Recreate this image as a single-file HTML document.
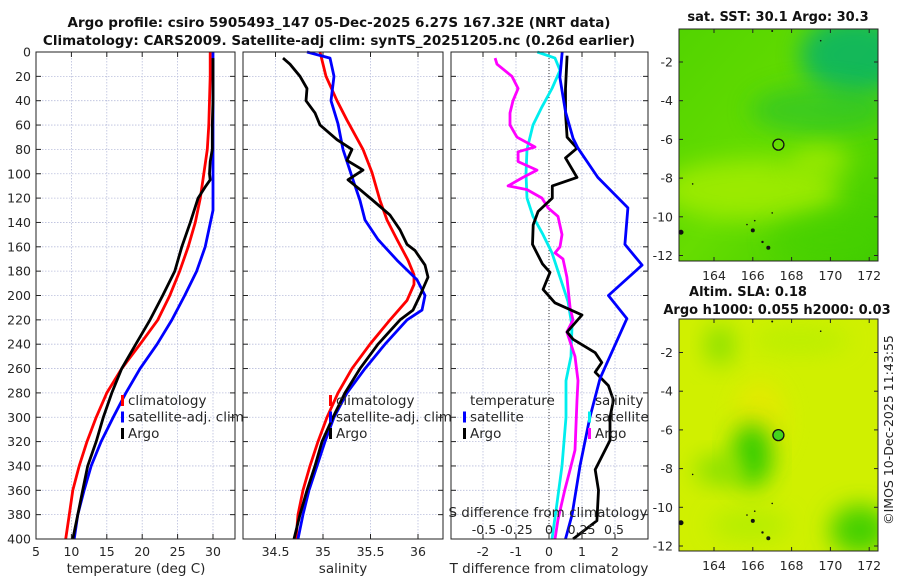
<!DOCTYPE html>
<html><head><meta charset="utf-8"><style>
body{margin:0;background:#fff;width:900px;height:580px;overflow:hidden}
svg{font-family:"DejaVu Sans","Liberation Sans",sans-serif;}
</style></head><body>
<svg id="c" width="900" height="580" viewBox="0 0 900 580">
<defs>
<filter id="bl" x="-50%" y="-50%" width="200%" height="200%"><feGaussianBlur stdDeviation="12"/></filter>
<clipPath id="m1c"><rect x="679" y="29" width="199" height="232"/></clipPath>
<clipPath id="m2c"><rect x="679" y="319" width="199" height="232"/></clipPath>
<linearGradient id="g1" x1="0" y1="0" x2="1" y2="1"><stop offset="0" stop-color="#52d400"/><stop offset="0.5" stop-color="#66dd00"/><stop offset="1" stop-color="#3fcc00"/></linearGradient>
</defs>
<text x="339" y="27" text-anchor="middle" font-size="13.5" font-weight="bold" fill="#111">Argo profile: csiro 5905493_147 05-Dec-2025 6.27S 167.32E (NRT data)</text>
<text x="339" y="45" text-anchor="middle" font-size="13.5" font-weight="bold" fill="#111">Climatology: CARS2009. Satellite-adj clim: synTS_20251205.nc (0.26d earlier)</text>
<g id="plots"></g>
<g>
<text x="778" y="21" text-anchor="middle" font-size="13" font-weight="bold" fill="#111">sat. SST: 30.1 Argo: 30.3</text>
<g clip-path="url(#m1c)">
<rect x="679" y="29" width="199" height="232" fill="url(#g1)"/>
<ellipse cx="855" cy="55" rx="55" ry="40" fill="#00b070" filter="url(#bl)" opacity="0.8"/>
<ellipse cx="820" cy="110" rx="70" ry="25" fill="#22c030" filter="url(#bl)" opacity="0.6"/>
<ellipse cx="750" cy="190" rx="90" ry="30" fill="#a8ee00" filter="url(#bl)" opacity="0.8"/>
<ellipse cx="820" cy="160" rx="30" ry="15" fill="#b0f000" filter="url(#bl)" opacity="0.7"/>
<ellipse cx="830" cy="240" rx="60" ry="25" fill="#44d000" filter="url(#bl)" opacity="0.6"/>
</g>
<rect x="679" y="29" width="199" height="232" fill="none" stroke="#222" stroke-width="1"/>
<g id="m1"></g>
</g>
<g>
<text x="748" y="296" text-anchor="middle" font-size="13" font-weight="bold" fill="#111">Altim. SLA: 0.18</text>
<text x="777" y="314" text-anchor="middle" font-size="13" font-weight="bold" fill="#111">Argo h1000: 0.055 h2000: 0.03</text>
<g clip-path="url(#m2c)">
<rect x="679" y="319" width="199" height="232" fill="#d0f000"/>
<ellipse cx="760" cy="420" rx="25" ry="40" fill="#e8e800" filter="url(#bl)" opacity="0.8"/>
<ellipse cx="752" cy="455" rx="20" ry="32" fill="#33cc00" filter="url(#bl)"/>
<ellipse cx="720" cy="470" rx="25" ry="15" fill="#88e000" filter="url(#bl)"/>
<ellipse cx="720" cy="345" rx="15" ry="20" fill="#88e000" filter="url(#bl)"/>
<ellipse cx="860" cy="530" rx="30" ry="25" fill="#44d000" filter="url(#bl)"/>
<ellipse cx="800" cy="340" rx="50" ry="15" fill="#b4ee00" filter="url(#bl)" opacity="0.7"/>
<ellipse cx="750" cy="525" rx="40" ry="15" fill="#a8ec00" filter="url(#bl)" opacity="0.7"/>
</g>
<rect x="679" y="319" width="199" height="232" fill="none" stroke="#222" stroke-width="1"/>
<g id="m2"></g>
</g>
<text transform="translate(893,430) rotate(-90)" text-anchor="middle" font-size="12.5" fill="#222">©IMOS 10-Dec-2025 11:43:55</text>
</svg>
<script>
const climTDepth=[0,20,40,60,80,100,120,140,160,180,200,220,240,260,280,300,320,340,360,380,400];
const climT=[29.6,29.6,29.5,29.4,29.2,28.7,28.2,27.5,26.5,25.3,23.9,22.2,19.7,17.1,15.0,13.5,12.2,11.1,10.2,9.7,9.2];
const satTDepth=[0,130,160,180,200,220,240,260,280,300,320,340,360,380,400];
const satT=[30.0,30.0,28.9,27.7,26.0,24.2,22.1,19.7,17.7,15.9,14.2,12.8,11.8,10.9,10.4];
const argoTDepth=[5,20,40,60,80,90,100,105,110,120,140,160,180,200,220,240,260,280,300,320,340,360,380,400];
const argoT=[30.0,30.0,30.0,29.9,29.9,29.6,29.5,29.6,29.0,27.9,26.8,25.6,24.6,22.9,21.1,19.1,17.1,15.7,14.5,13.5,12.3,11.6,10.9,10.2];
const climSDepth=[0,20,40,56,80,99,122,138,154,171,183,191,204,220,240,260,280,300,320,340,360,380,400];
const climS=[34.968,35.032,35.147,35.253,35.421,35.516,35.6,35.674,35.779,35.895,35.958,35.958,35.884,35.705,35.495,35.305,35.158,35.042,34.947,34.863,34.789,34.737,34.716];
const satSDepth=[0,5,20,40,59,80,105,122,138,154,171,187,200,212,220,240,260,280,300,320,340,360,380,400];
const satS=[34.832,35.074,35.116,35.084,35.158,35.211,35.316,35.389,35.442,35.579,35.779,35.989,36.074,36.042,35.884,35.653,35.442,35.253,35.116,35.021,34.937,34.853,34.789,34.737];
const argoSDepth=[5,10,20,30,40,50,60,72,80,89,97,105,113,122,134,146,158,163,175,185,200,212,220,240,260,280,300,320,340,360,380,400];
const argoS=[34.579,34.653,34.758,34.832,34.821,34.916,34.968,35.147,35.305,35.253,35.421,35.263,35.389,35.526,35.705,35.811,35.884,35.968,36.074,36.105,36.021,35.947,35.811,35.579,35.389,35.232,35.105,34.989,34.916,34.832,34.758,34.695];
const satTdDepth=[0,21,49,71,79,103,128,158,175,200,219,268,300,340,380,400];
const satTd=[0.4,0.33,0.5,0.73,0.88,1.48,2.39,2.3,2.82,1.8,2.36,1.55,1.24,0.94,0.7,0.5];
const argoTdDepth=[3,30,50,70,79,87,103,110,120,131,142,158,174,181,195,206,216,230,236,247,255,263,274,286,300,319,343,360,385,400];
const argoTd=[0.55,0.5,0.5,0.55,0.85,0.5,0.85,0.1,0.1,-0.33,-0.48,-0.5,-0.2,0.03,-0.18,0.18,1.0,0.55,0.73,1.4,1.6,1.4,1.8,1.95,1.85,1.85,1.4,1.5,1.45,0.73];
const satSdDepth=[0,5,15,30,45,60,80,100,120,135,150,165,185,205,225,250,270,300,340,370,400];
const satSd=[-0.09,0.046,0.085,0.023,-0.054,-0.123,-0.169,-0.177,-0.169,-0.123,-0.046,0.023,0.085,0.146,0.177,0.169,0.131,0.131,0.1,0.062,0.023];
const argoSdDepth=[5,10,20,30,40,50,60,70,78,82,90,97,103,110,113,120,128,135,150,160,165,170,185,210,220,230,250,270,286,327,343,359,384,400];
const argoSd=[-0.415,-0.4,-0.285,-0.238,-0.277,-0.3,-0.3,-0.246,-0.108,-0.238,-0.238,-0.092,-0.2,-0.315,-0.169,-0.054,-0.008,0.069,0.1,0.085,0.046,0.108,0.138,0.162,0.185,0.138,0.2,0.223,0.215,0.2,0.162,0.123,0.069,0.046];
const depthTicks=[0,20,40,60,80,100,120,140,160,180,200,220,240,260,280,300,320,340,360,380,400];
const tTicks=[5,10,15,20,25,30];
const sTicks=[34.5,35,35.5,36];
const tdTicks=[-2,-1,0,1,2];
const sdTicks=[-0.5,-0.25,0,0.25,0.5];
const sdTickLabels=["-0.5","-0.25","0","0.25","0.5"];
const lonTicks=[164,166,168,170,172];
const latTicks=[-2,-4,-6,-8,-10,-12];
const argoLon=167.32, argoLat=-6.27;

const NS='http://www.w3.org/2000/svg';
const Y0=52, Y1=539;
const yD=d=>Y0+(d/400)*(Y1-Y0);
const xT=v=>36+(v-5)*7.08;
const xS=v=>323+(v-35)*95;
const xTd=v=>549+v*33;
const xSd=v=>549+v*130;
const P=[{x0:36,x1:235},{x0:243,x1:443},{x0:451,x1:648}];
const root=document.getElementById('plots');
function el(tag,attrs,parent){const e=document.createElementNS(NS,tag);for(const k in attrs)e.setAttribute(k,attrs[k]);(parent||root).appendChild(e);return e;}
function txt(x,y,s,attrs,parent){const t=el('text',Object.assign({x:x,y:y,'font-size':12.5,fill:'#262626'},attrs||{}),parent);t.textContent=s;return t;}

P.forEach((p,i)=>{
  const g=el('g',{});
  
  
  p.g=g;
  depthTicks.forEach(d=>{
    const ln=el('line',{x1:p.x0,x2:p.x1,y1:yD(d),y2:yD(d),stroke:'#b9bedc','stroke-width':0.8,'stroke-dasharray':'1.5,1.5'},g);
    
    
    el('line',{x1:p.x0,x2:p.x0+5,y1:yD(d),y2:yD(d),stroke:'#222'},g);
    el('line',{x1:p.x1-5,x2:p.x1,y1:yD(d),y2:yD(d),stroke:'#222'},g);
  });
});
function vgrid(p,ticks,sc,labels){
  ticks.forEach((v,k)=>{
    const x=sc(v);
    const ln=el('line',{x1:x,x2:x,y1:Y0,y2:Y1,stroke:'#b9bedc','stroke-width':0.8,'stroke-dasharray':'1.5,1.5'},p.g);
    
    
    el('line',{x1:x,x2:x,y1:Y1-5,y2:Y1,stroke:'#222'},p.g);
    el('line',{x1:x,x2:x,y1:Y0,y2:Y0+5,stroke:'#222'},p.g);
    const t=txt(x,556,labels?labels[k]:String(v),{'text-anchor':'middle'},p.g);
    
    
  });
}
vgrid(P[0],tTicks,xT);
vgrid(P[1],sTicks,xS);
vgrid(P[2],tdTicks,xTd);
el('line',{x1:xTd(0),x2:xTd(0),y1:Y0,y2:Y1,stroke:'#333','stroke-width':1,'stroke-dasharray':'1,2'},P[2].g);
depthTicks.forEach(d=>{
  const t=txt(31,yD(d)+4.5,String(d),{'text-anchor':'end'});
  
  
});
function line(dep,vals,sc,color,name,g){
  const pts=dep.map((d,i)=>sc(vals[i]).toFixed(1)+','+yD(d).toFixed(1)).join(' ');
  const pl=el('polyline',{points:pts,fill:'none',stroke:color,'stroke-width':2.8,'stroke-linejoin':'round'},g);
  
  
}
line(climTDepth,climT,xT,'#ff0000','climatology-temperature-line',P[0].g);
line(satTDepth,satT,xT,'#0000ff','satellite-temperature-line',P[0].g);
line(argoTDepth,argoT,xT,'#000000','argo-temperature-line',P[0].g);
line(climSDepth,climS,xS,'#ff0000','climatology-salinity-line',P[1].g);
line(satSDepth,satS,xS,'#0000ff','satellite-salinity-line',P[1].g);
line(argoSDepth,argoS,xS,'#000000','argo-salinity-line',P[1].g);
line(satSdDepth,satSd,xSd,'#00eeee','satellite-salinity-diff-line',P[2].g);
line(argoSdDepth,argoSd,xSd,'#ff00ff','argo-salinity-diff-line',P[2].g);
line(argoTdDepth,argoTd,xTd,'#000000','argo-temperature-diff-line',P[2].g);
line(satTdDepth,satTd,xTd,'#0000ff','satellite-temperature-diff-line',P[2].g);
P.forEach(p=>{el('rect',{x:p.x0,y:Y0,width:p.x1-p.x0,height:Y1-Y0,fill:'none',stroke:'#222','stroke-width':1},p.g);});
{const t=txt(548,517,'S difference from climatology',{'text-anchor':'middle','font-size':13.5});
}
sdTicks.forEach((v,k)=>{const t=txt(xSd(v),534,sdTickLabels[k],{'text-anchor':'middle'});
});
[['temperature (deg C)',136,'x-axis-title-temperature'],['salinity',343,'x-axis-title-salinity'],['T difference from climatology',549,'x-axis-title-t-diff']].forEach(a=>{
  const t=txt(a[1],573,a[0],{'text-anchor':'middle','font-size':13.5});
  
});
function legend(x,y,items,name){
  const g=el('g',{});
  
  
  items.forEach((it,i)=>{
    const yy=y+i*16.5;
    if(it[1])el('rect',{x:x,y:yy-10,width:3,height:11,fill:it[1]},g);
    const t=txt(x+7,yy,it[0],{'font-size':13.5},g);
    
    
  });
}
legend(121,405,[['climatology','#ff0000'],['satellite-adj. clim','#0000ff'],['Argo','#000000']],'legend-temperature');
legend(329,405,[['climatology','#ff0000'],['satellite-adj. clim','#0000ff'],['Argo','#000000']],'legend-salinity');
legend(463,405,[['temperature',null],['satellite','#0000ff'],['Argo','#000000']],'legend-t-diff');
legend(588,405,[['salinity',null],['satellite','#00eeee'],['Argo','#ff00ff']],'legend-s-diff');

function map(gid,yTop,yLatM2){
  const g=document.getElementById(gid);
  const lx=v=>714+(v-164)*19.4;
  const ly=v=>yLatM2+(-2-v)*19.35;
  lonTicks.forEach(v=>{
    el('line',{x1:lx(v),x2:lx(v),y1:yTop+232-4,y2:yTop+232,stroke:'#222'},g);
    el('line',{x1:lx(v),x2:lx(v),y1:yTop,y2:yTop+4,stroke:'#222'},g);
    const t=txt(lx(v),yTop+251,String(v),{'text-anchor':'middle'},g);
    
  });
  latTicks.forEach(v=>{
    el('line',{x1:679,x2:683,y1:ly(v),y2:ly(v),stroke:'#222'},g);
    el('line',{x1:874,x2:878,y1:ly(v),y2:ly(v),stroke:'#222'},g);
    const t=txt(673,ly(v)+4.5,String(v),{'text-anchor':'end'},g);
    
  });
  [[162.3,-10.8,2.5],[166,-10.7,2],[166.8,-11.6,2],[166.5,-11.3,1.2],[167,-0.4,1],[169.5,-0.9,0.8],[162.9,-8.3,0.8],[167,-9.8,0.8],[165.7,-10.4,0.8],[166.1,-10.2,0.8]].forEach(p=>{
    el('circle',{cx:lx(p[0]),cy:ly(p[1]),r:p[2],fill:'#111'},g);
  });
  const c=el('circle',{cx:lx(argoLon),cy:ly(argoLat),r:5.5,fill:gid==='m2'?'#44d41c':'none',stroke:'#111','stroke-width':1.3},g);
  
  
}
map('m1',29,62);
map('m2',319,352.5);
</script>
</body></html>
